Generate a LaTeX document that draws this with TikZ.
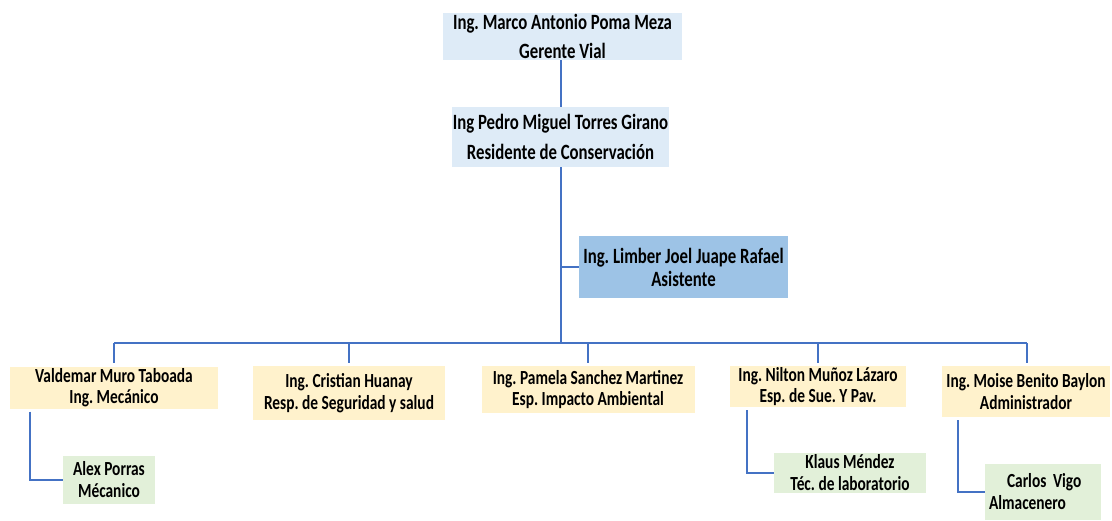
\documentclass[tikz,border=0pt]{standalone}
\usepackage{fontspec}
\setmainfont{Carlito}[FakeStretch=0.77]
\definecolor{topblue}{HTML}{DEEBF7}
\definecolor{asblue}{HTML}{9DC3E6}
\definecolor{orangebox}{HTML}{FFF2CC}
\definecolor{greenbox}{HTML}{E2F0D9}
\definecolor{linkblue}{HTML}{4472C4}
\tikzset{
  orgbox/.style={inner sep=0pt, align=center, text=black},
  topbox/.style={orgbox, fill=topblue, font=\frenchspacing\bfseries\fontsize{21.8}{29.5}\selectfont},
  asbox/.style={orgbox, fill=asblue, font=\frenchspacing\bfseries\fontsize{21.8}{23}\selectfont},
  ubox/.style={orgbox, fill=orangebox, font=\frenchspacing\bfseries\fontsize{20}{21.5}\selectfont},
  gbox/.style={orgbox, fill=greenbox, font=\frenchspacing\bfseries\fontsize{20}{22}\selectfont},
  link/.style={draw=linkblue, line width=1.7pt},
}
\begin{document}
\begin{tikzpicture}[x=1pt,y=-1pt]
\useasboundingbox (0,0) rectangle (1112,520);
% top boxes
\node[topbox, minimum width=239pt, minimum height=47pt] (gerente) at (562.5,36.5)
  {Ing. Marco Antonio Poma Meza\\Gerente Vial};
\node[topbox, minimum width=217pt, minimum height=60pt] (residente) at (560.5,137)
  {Ing Pedro Miguel Torres Girano\\Residente de Conservación};
\node[asbox, minimum width=209pt, minimum height=62pt] (asistente) at (683.5,267)
  {Ing. Limber Joel Juape Rafael\\Asistente};
% level 3
\node[ubox, minimum width=208pt, minimum height=42pt] (valdemar) at (114,387.5)
  {Valdemar Muro Taboada\\Ing. Mecánico};
\node[ubox, minimum width=192pt, minimum height=54pt] (cristian) at (349,393)
  {Ing. Cristian Huanay\\Resp. de Seguridad y salud};
\node[ubox, minimum width=213pt, minimum height=47pt] (pamela) at (588,389.5)
  {Ing. Pamela Sanchez Martinez\\Esp. Impacto Ambiental};
\node[ubox, minimum width=176pt, minimum height=41pt] (nilton) at (818,386.5)
  {Ing. Nilton Muñoz Lázaro\\Esp. de Sue. Y Pav.};
\node[ubox, minimum width=168pt, minimum height=51pt] (moise) at (1026,391.5)
  {Ing. Moise Benito Baylon\\Administrador};
% level 4
\node[gbox, minimum width=92pt, minimum height=48pt] (alex) at (109,480)
  {Alex Porras\\Mécanico};
\node[gbox, minimum width=152pt, minimum height=40pt] (klaus) at (850,473)
  {Klaus Méndez\\Téc. de laboratorio};
\node[gbox, minimum width=116pt, minimum height=56pt, text width=108pt, align=left] (carlos) at (1043,492)
  {\hspace*{18pt}Carlos Vigo\\Almacenero};
% connectors
\coordinate (asjoin) at (561,267);
\coordinate (busL) at (114,343);
\coordinate (busR) at (1027,343);
\coordinate (busM) at (561,343);
\draw[link] (gerente.south -| busM) -- (residente.north -| busM);
\draw[link] (residente.south -| busM) -- (busM);
\draw[link] (asjoin) -- (asistente.west);
\draw[link] (busL) -- (busR);
\draw[link, shorten >=3pt] (busL) -- (valdemar.north);
\draw[link, shorten >=3pt] (busL -| cristian.north) -- (cristian.north);
\draw[link, shorten >=3pt] (busL -| pamela.north) -- (pamela.north);
\draw[link, shorten >=3pt] (busL -| nilton.north) -- (nilton.north);
\draw[link, shorten >=3pt] (busR) -- (busR |- moise.north);
\draw[link, shorten <=3pt] ([xshift=20pt]valdemar.south west) |- (alex.west);
\draw[link, shorten <=3pt] ([xshift=17pt]nilton.south west) |- (klaus.west);
\draw[link, shorten <=3pt] ([xshift=16pt]moise.south west) |- (carlos.west);
\end{tikzpicture}
\end{document}
